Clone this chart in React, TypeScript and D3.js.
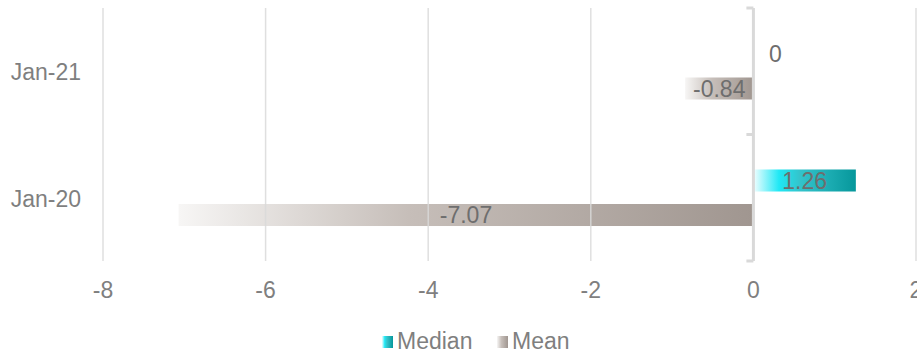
import React from "react";
import * as d3 from "d3";

const categories = ["Jan-21", "Jan-20"];
const seriesNames = ["Median", "Mean"];
const medianValues = [0, 1.26];
const meanValues = [-0.84, -7.07];
const xTicks = [-8, -6, -4, -2, 0, 2];

const W = 917;
const H = 356;
const FONT = "'Liberation Sans', Arial, sans-serif";
const FS = 23;

// plain hyphen-minus for negatives
const fmtValue = (v: number) => (v === 0 ? "0" : d3.format(".2f")(v).replace("\u2212", "-"));
const fmtTick = (v: number) => String(v);

export default function App() {
  const x = d3.scaleLinear().domain([-8, 2]).range([103, 916]);
  const y = d3.scaleBand<string>().domain(categories).range([8, 261]);
  const inner = d3
    .scaleBand<string>()
    .domain(seriesNames)
    .range([0, y.bandwidth()])
    .paddingInner(0.362)
    .paddingOuter(1.014);

  const rows = categories.map((c, i) => ({
    cat: c,
    values: [
      { name: "Median", v: medianValues[i] },
      { name: "Mean", v: meanValues[i] },
    ],
  }));

  const x0 = x(0);

  return (
    <svg
      width={W}
      height={H}
      style={{ position: "absolute", left: 0, top: 0, background: "#fff" }}
      fontFamily={FONT}
    >
      <defs>
        <linearGradient id="gMedian" x1="0" x2="1" y1="0" y2="0">
          <stop offset="0" stopColor="#f2feff" />
          <stop offset="0.25" stopColor="#1fe8f5" />
          <stop offset="0.45" stopColor="#34c4cc" />
          <stop offset="1" stopColor="#06979b" />
        </linearGradient>
        <linearGradient id="gMean" x1="0" x2="1" y1="0" y2="0">
          <stop offset="0" stopColor="#f7f6f5" />
          <stop offset="0.4" stopColor="#c6beb9" />
          <stop offset="1" stopColor="#a09690" />
        </linearGradient>
      </defs>

      {/* bars */}
      {rows.map((r) =>
        r.values.map((d) => {
          const by = (y(r.cat) as number) + (inner(d.name) as number);
          const bh = inner.bandwidth();
          const left = Math.min(x(d.v), x0);
          const w = Math.abs(x(d.v) - x0);
          if (w <= 0) return null;
          return (
            <rect
              key={r.cat + d.name}
              x={left}
              y={by}
              width={w}
              height={bh}
              fill={d.name === "Median" ? "url(#gMedian)" : "url(#gMean)"}
            />
          );
        })
      )}

      {/* vertical gridlines */}
      {xTicks
        .filter((t) => t !== 0)
        .map((t) => (
          <line
            key={"g" + t}
            x1={x(t)}
            x2={x(t)}
            y1={8}
            y2={261}
            stroke="#d9d9d9"
            strokeWidth={1.5}
            strokeOpacity={0.85}
          />
        ))}

      {/* category axis at zero */}
      <line x1={x0} x2={x0} y1={8} y2={261} stroke="#d9d9d9" strokeWidth={3} />
      {[8, ...categories.map((c) => (y(c) as number) + y.bandwidth())].map((ty) => (
        <line
          key={"t" + ty}
          x1={x0 - 7}
          x2={x0}
          y1={ty}
          y2={ty}
          stroke="#d9d9d9"
          strokeWidth={3}
        />
      ))}

      {/* data labels */}
      {rows.map((r) =>
        r.values.map((d) => {
          const cy = (y(r.cat) as number) + (inner(d.name) as number) + inner.bandwidth() / 2;
          const cx = d.v === 0 ? x0 + 22 : (x(d.v) + x0) / 2;
          return (
            <text
              key={"l" + r.cat + d.name}
              x={cx}
              y={cy}
              dy="0.35em"
              textAnchor="middle"
              fontSize={FS}
              fill="#6e6e6e"
            >
              {fmtValue(d.v)}
            </text>
          );
        })
      )}

      {/* category labels */}
      {categories.map((c) => (
        <text
          key={"c" + c}
          x={81}
          y={(y(c) as number) + y.bandwidth() / 2 + 1}
          dy="0.35em"
          textAnchor="end"
          fontSize={FS}
          fill="#7f7f7f"
        >
          {c}
        </text>
      ))}

      {/* value axis labels */}
      {xTicks.map((t) => (
        <text
          key={"x" + t}
          x={x(t)}
          y={298}
          textAnchor="middle"
          fontSize={FS}
          fill="#7f7f7f"
        >
          {fmtTick(t)}
        </text>
      ))}

      {/* legend */}
      <g>
        <rect x={382} y={336} width={11} height={12} fill="url(#gMedian)" />
        <text x={397} y={349} fontSize={FS} fill="#7f7f7f">
          Median
        </text>
        <rect x={497} y={336} width={11} height={12} fill="url(#gMean)" />
        <text x={512} y={349} fontSize={FS} fill="#7f7f7f">
          Mean
        </text>
      </g>
    </svg>
  );
}
